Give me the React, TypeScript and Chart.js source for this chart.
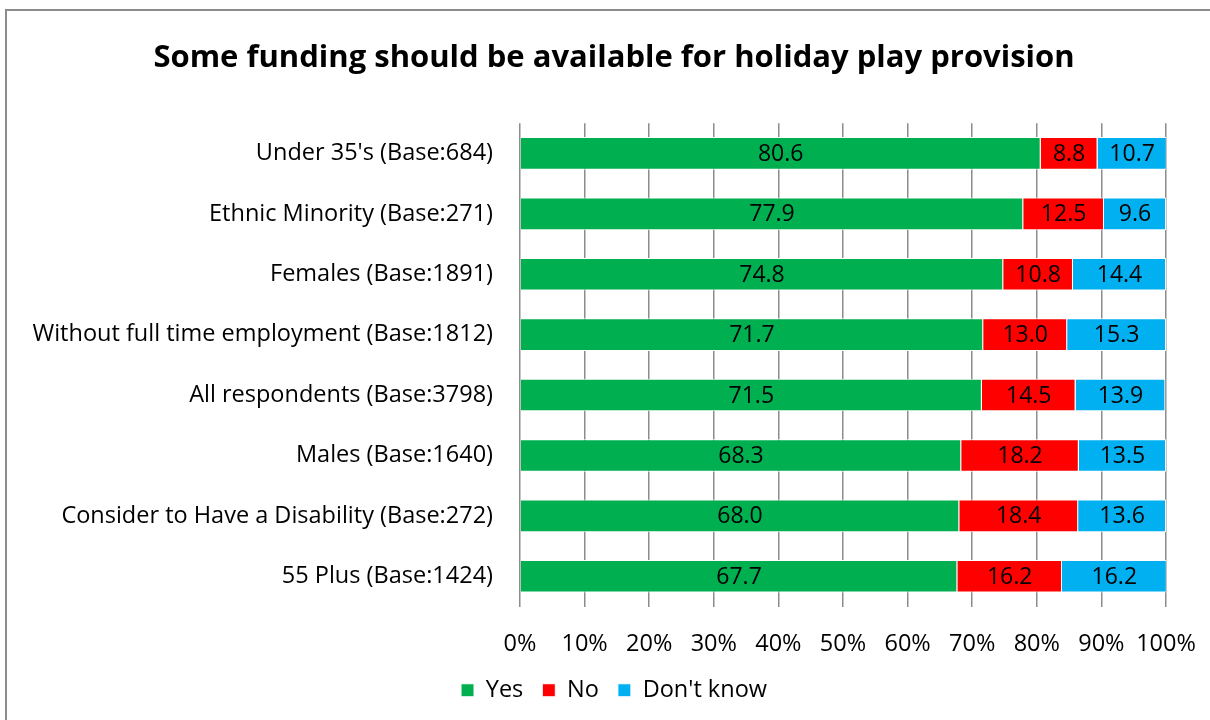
import React, { useEffect, useRef } from "react";
import { Chart, registerables } from "chart.js";

Chart.register(...registerables);

const categories = [
  "Under 35's (Base:684)",
  "Ethnic Minority (Base:271)",
  "Females (Base:1891)",
  "Without full time employment (Base:1812)",
  "All respondents (Base:3798)",
  "Males (Base:1640)",
  "Consider to Have a Disability (Base:272)",
  "55 Plus (Base:1424)",
];
const yesValues = [80.6, 77.9, 74.8, 71.7, 71.5, 68.3, 68.0, 67.7];
const noValues = [8.8, 12.5, 10.8, 13.0, 14.5, 18.2, 18.4, 16.2];
const dontKnowValues = [10.7, 9.6, 14.4, 15.3, 13.9, 13.5, 13.6, 16.2];
const seriesNames = ["Yes", "No", "Don't know"];
const seriesColors = ["#00B050", "#FF0000", "#00B0F0"];
const titleText = "Some funding should be available for holiday play provision";

const FONT = "'Open Sans', Lato, sans-serif";
const TEXT_SIZE = 23.5;

const dataLabelPlugin = {
  id: "dataLabels",
  afterDatasetsDraw(chart: any) {
    const ctx = chart.ctx;
    ctx.save();
    ctx.font = `23px ${FONT}`;
    ctx.fillStyle = "#000";
    ctx.textAlign = "center";
    ctx.textBaseline = "middle";
    chart.data.datasets.forEach((ds: any, i: number) => {
      const meta = chart.getDatasetMeta(i);
      meta.data.forEach((el: any, j: number) => {
        const v = ds.data[j];
        const cx = (el.x + el.base) / 2;
        ctx.fillText(Number(v).toFixed(1), cx, el.y + 1);
      });
    });
    ctx.restore();
  },
};

export default function App() {
  const ref = useRef<HTMLCanvasElement | null>(null);
  useEffect(() => {
    if (!ref.current) return;
    const data = [yesValues, noValues, dontKnowValues];
    const chart = new Chart(ref.current, {
      type: "bar",
      data: {
        labels: categories,
        datasets: seriesNames.map((name, i) => ({
          label: name,
          data: data[i],
          backgroundColor: seriesColors[i],
          borderColor: "#FFFFFF",
          borderWidth: 1,
          categoryPercentage: 1,
          barPercentage: 0.54,
        })),
      },
      options: {
        indexAxis: "y",
        responsive: false,
        animation: false,
        layout: { padding: { left: 18, right: 0, top: 0, bottom: 8 } },
        plugins: {
          title: {
            display: true,
            text: titleText,
            color: "#000",
            font: { family: FONT, size: 31, weight: "bold" },
            padding: { top: 40, bottom: 46 },
          },
          legend: {
            position: "bottom",
            labels: {
              color: "#000",
              font: { family: FONT, size: TEXT_SIZE },
              boxWidth: 13,
              boxHeight: 13,
              padding: 19,
            },
          },
          tooltip: { enabled: false },
        },
        scales: {
          x: {
            stacked: true,
            min: 0,
            max: 100,
            ticks: {
              stepSize: 10,
              color: "#000",
              font: { family: FONT, size: TEXT_SIZE },
              padding: 24,
              maxRotation: 0,
              minRotation: 0,
              autoSkip: false,
              callback: (v: any) => v + "%",
            },
            grid: { color: "#8c8c8c", lineWidth: 1.5, drawTicks: false },
            border: { display: false },
            afterFit: (s: any) => {
              s.height = 53;
              s.paddingLeft = 0;
              s.paddingRight = 44;
            },
          },
          y: {
            stacked: true,
            ticks: {
              color: "#000",
              font: { family: FONT, size: TEXT_SIZE },
              padding: 27,
            },
            grid: { display: false, drawTicks: false },
            border: { display: false },
            afterFit: (s: any) => {
              s.width = 502;
            },
          },
        },
      },
      plugins: [dataLabelPlugin],
    } as any);
    return () => chart.destroy();
  }, []);

  return (
    <div
      style={{
        position: "fixed",
        left: 0,
        top: 0,
        width: 1210,
        height: 720,
        background: "#fff",
        overflow: "hidden",
      }}
    >
      <canvas
        ref={ref}
        width={1210}
        height={720}
        style={{ position: "absolute", left: 0, top: 0, width: 1210, height: 720 }}
      />
      <div
        style={{
          position: "absolute",
          left: 5,
          top: 9,
          width: 1300,
          height: 800,
          borderLeft: "2px solid #8c8c8c",
          borderTop: "2px solid #8c8c8c",
          pointerEvents: "none",
        }}
      />
    </div>
  );
}
